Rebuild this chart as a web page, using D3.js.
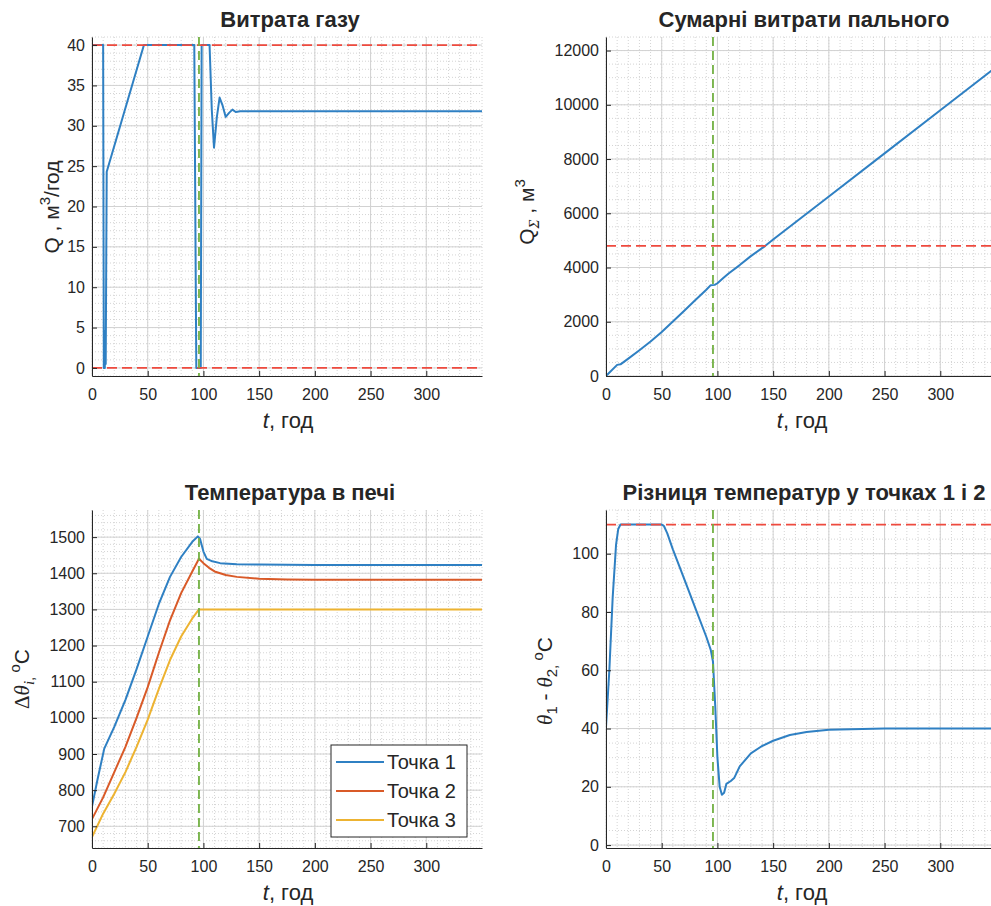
<!DOCTYPE html>
<html>
<head>
<meta charset="utf-8">
<script src="https://cdn.jsdelivr.net/npm/d3@7"></script>
<style>
  body { margin: 0; background: #fff; }
  text { font-family: "Liberation Sans", Arial, Helvetica, sans-serif; fill: #262626; }
  .serif { font-family: "Liberation Serif", "DejaVu Serif", serif; font-style: italic; }
  .up { font-style: normal; }
</style>
</head>
<body>
<svg id="chart" width="991" height="906"></svg>
<script>
// time axis, hours
const tDomain = [0, 350];
const tTicks = [0, 50, 100, 150, 200, 250, 300];
const tSwitch = 96; // green marker line

// gas flow Q, m3/h
const gasT = [0, 10, 10.6, 11.5, 11.9, 12.3, 13.2, 46.6, 91.8, 93.6, 97.6, 98.4, 105.5, 107.5, 109.5, 112, 114.5, 117, 120, 123, 126, 129, 133, 140, 350];
const gasQ = [40, 40, 0, 0, 4.6, 0.5, 24.3, 40, 40, 0, 0, 40, 40, 32, 27.3, 31, 33.5, 32.6, 31.1, 31.6, 32, 31.7, 31.8, 31.8, 31.8];
const gasLimits = [0, 40];
const gasYTicks = [0, 5, 10, 15, 20, 25, 30, 35, 40];

// total fuel, m3
const sumT = [0, 10, 13, 20, 30, 40, 50, 60, 70, 80, 90, 94, 97.5, 100, 105, 110, 120, 130, 143, 150, 200, 250, 300, 350];
const sumQ = [0, 410, 430, 640, 950, 1270, 1620, 2010, 2400, 2790, 3180, 3350, 3360, 3420, 3600, 3780, 4090, 4420, 4800, 5030, 6620, 8210, 9800, 11390];
const sumLimit = [4800];
const sumYTicks = [0, 2000, 4000, 6000, 8000, 10000, 12000];

// furnace temperature, degC
const p1T = [0, 5, 11, 20, 30, 40, 50, 60, 70, 80, 90, 95, 97, 100, 103, 108, 115, 130, 150, 200, 350];
const p1V = [755, 830, 915, 975, 1050, 1135, 1225, 1315, 1390, 1445, 1487, 1502, 1495, 1460, 1440, 1433, 1428, 1425, 1424, 1423, 1423];
const p2T = [0, 10, 20, 30, 40, 50, 60, 70, 80, 90, 96, 100, 105, 110, 120, 130, 150, 175, 200, 350];
const p2V = [720, 780, 850, 920, 1000, 1085, 1180, 1270, 1345, 1405, 1440, 1428, 1415, 1405, 1395, 1390, 1385, 1383, 1382, 1382];
const p3T = [0, 10, 20, 30, 40, 50, 60, 70, 80, 90, 96, 100, 350];
const p3V = [670, 735, 790, 850, 920, 995, 1080, 1160, 1225, 1275, 1300, 1300, 1300];
const tempNames = ["Точка 1", "Точка 2", "Точка 3"];
const tempYTicks = [700, 800, 900, 1000, 1100, 1200, 1300, 1400, 1500];

// temperature difference between points 1 and 2
const diffT = [0, 3, 6, 9, 11, 13, 20, 50, 52, 55, 60, 70, 80, 90, 94, 96, 98, 100, 102, 104, 106, 108, 112, 115, 120, 130, 140, 150, 165, 180, 200, 250, 350];
const diffV = [40.5, 60, 85, 103, 108.5, 110, 110, 110, 109.5, 107, 101.5, 91.5, 81.5, 71.5, 67, 63, 48, 30, 20, 17.3, 18, 21, 22, 23, 27, 31.5, 34, 35.8, 37.8, 38.8, 39.6, 40, 40];
const diffLimit = [110];
const diffYTicks = [0, 20, 40, 60, 80, 100];

const blue = "#2f80c3", red = "#d95a28", yellow = "#edb331";
const svg = d3.select("#chart");
const plotW = 390;

function zip(ts, vs) { return ts.map((t, i) => ({ t: t, v: vs[i] })); }

function panel(p) {
  const x = d3.scaleLinear().domain(tDomain).range([p.left, p.left + plotW]);
  const y = d3.scaleLinear().domain(p.yDomain).range([p.bottom, p.top]);
  const g = svg.append("g");
  const id = "clip" + p.left + "_" + p.top;
  g.append("clipPath").attr("id", id).append("rect")
    .attr("x", p.left).attr("y", p.top).attr("width", plotW).attr("height", p.bottom - p.top);

  // minor grid
  const xMinor = d3.range(0, tDomain[1] + 0.01, 10);
  const yMinor = d3.range(Math.ceil(p.yDomain[0] / p.yMinor) * p.yMinor, p.yDomain[1] + 1e-6, p.yMinor);
  g.selectAll(null).data(xMinor).join("line")
    .attr("x1", d => x(d)).attr("x2", d => x(d)).attr("y1", p.top).attr("y2", p.bottom)
    .attr("stroke", "#d4d4d4").attr("stroke-dasharray", "1,2");
  g.selectAll(null).data(yMinor).join("line")
    .attr("y1", d => y(d)).attr("y2", d => y(d)).attr("x1", p.left).attr("x2", p.left + plotW)
    .attr("stroke", "#d4d4d4").attr("stroke-dasharray", "1,2");
  // major grid
  g.selectAll(null).data(tTicks).join("line")
    .attr("x1", d => x(d)).attr("x2", d => x(d)).attr("y1", p.top).attr("y2", p.bottom)
    .attr("stroke", "#d2d2d2");
  g.selectAll(null).data(p.yTicks).join("line")
    .attr("y1", d => y(d)).attr("y2", d => y(d)).attr("x1", p.left).attr("x2", p.left + plotW)
    .attr("stroke", "#d2d2d2");

  const line = d3.line().x(d => x(d.t)).y(d => y(d.v));
  const plot = g.append("g").attr("clip-path", "url(#" + id + ")");
  p.series.forEach(s => {
    plot.append("path").datum(zip(s.t, s.v))
      .attr("d", line).attr("fill", "none").attr("stroke", s.color)
      .attr("stroke-width", 2).attr("stroke-linejoin", "round");
  });
  (p.limits || []).forEach(v => {
    plot.append("line").attr("x1", p.left).attr("x2", p.left + plotW)
      .attr("y1", y(v)).attr("y2", y(v))
      .attr("stroke", "#ee4a3e").attr("stroke-width", 1.8).attr("stroke-dasharray", "10,5");
  });
  plot.append("line").attr("x1", x(tSwitch)).attr("x2", x(tSwitch))
    .attr("y1", p.top).attr("y2", p.bottom)
    .attr("stroke", "#72b043").attr("stroke-width", 1.8).attr("stroke-dasharray", "9,5");

  // axes
  const xa = g.append("g").attr("transform", "translate(0," + p.bottom + ")")
    .call(d3.axisBottom(x).tickValues(tTicks).tickFormat(d3.format("d"))
      .tickSizeInner(-5).tickSizeOuter(0).tickPadding(13));
  const ya = g.append("g").attr("transform", "translate(" + p.left + ",0)")
    .call(d3.axisLeft(y).tickValues(p.yTicks).tickFormat(d3.format("d"))
      .tickSizeInner(-5).tickSizeOuter(0).tickPadding(7));
  [xa, ya].forEach(a => {
    a.select(".domain").attr("stroke", "#262626");
    a.selectAll(".tick line").attr("stroke", "#262626");
    a.selectAll("text").attr("font-size", 16).attr("font-family", null);
  });

  // title
  g.append("text").attr("x", p.left + plotW / 2 + 3).attr("y", p.top - 10)
    .attr("text-anchor", "middle").attr("font-weight", "bold").attr("font-size", 22)
    .text(p.title);
  // x label
  const xl = g.append("text").attr("x", p.left + plotW / 2 + 1).attr("y", p.bottom + 52)
    .attr("text-anchor", "middle").attr("font-size", 22);
  xl.append("tspan").attr("font-style", "italic").text("t");
  xl.append("tspan").text(", год");
  // y label
  const yl = g.append("text")
    .attr("transform", "translate(" + p.ylx + "," + p.yly + ") rotate(-90)")
    .attr("text-anchor", "middle").attr("font-size", 21);
  p.ylabel(yl);
  return { x: x, y: y };
}

panel({
  left: 92, top: 37, bottom: 376, yDomain: [-1, 41], yTicks: gasYTicks, yMinor: 1,
  series: [{ t: gasT, v: gasQ, color: blue }], limits: gasLimits,
  title: "Витрата газу", ylx: 59, yly: 207,
  ylabel: t => {
    t.append("tspan").text("Q , м");
    t.append("tspan").attr("font-size", 15).attr("dy", -9).text("3");
    t.append("tspan").attr("dy", 9).text("/год");
  }
});

panel({
  left: 606, top: 37, bottom: 376, yDomain: [0, 12500], yTicks: sumYTicks, yMinor: 500,
  series: [{ t: sumT, v: sumQ, color: blue }], limits: sumLimit,
  title: "Сумарні витрати пального", ylx: 534, yly: 212,
  ylabel: t => {
    t.append("tspan").text("Q");
    t.append("tspan").attr("class", "serif").attr("font-size", 15).attr("dy", 5).text("Σ");
    t.append("tspan").attr("dy", -5).text(" , м");
    t.append("tspan").attr("font-size", 15).attr("dy", -9).text("3");
  }
});

panel({
  left: 92, top: 510, bottom: 848, yDomain: [640, 1575], yTicks: tempYTicks, yMinor: 20,
  series: [{ t: p1T, v: p1V, color: blue }, { t: p2T, v: p2V, color: red }, { t: p3T, v: p3V, color: yellow }],
  title: "Температура в печі", ylx: 29, yly: 679,
  ylabel: t => {
    t.append("tspan").attr("class", "serif up").text("Δ");
    t.append("tspan").attr("class", "serif").text("θ");
    t.append("tspan").attr("class", "serif").attr("font-size", 15).attr("dy", 5).text("i");
    t.append("tspan").attr("font-size", 15).text(", ");
    t.append("tspan").attr("font-size", 15).attr("dy", -14).text("o");
    t.append("tspan").attr("dy", 9).text("C");
  }
});

// legend
const leg = svg.append("g");
leg.append("rect").attr("x", 331).attr("y", 745).attr("width", 136).attr("height", 92)
  .attr("fill", "#fff").attr("stroke", "#262626").attr("stroke-width", 1);
tempNames.forEach((n, i) => {
  const yy = 762 + i * 29;
  leg.append("line").attr("x1", 336).attr("x2", 384).attr("y1", yy).attr("y2", yy)
    .attr("stroke", [blue, red, yellow][i]).attr("stroke-width", 2);
  leg.append("text").attr("x", 387).attr("y", yy + 7).attr("font-size", 20).text(n);
});

panel({
  left: 606, top: 510, bottom: 848, yDomain: [-1, 115], yTicks: diffYTicks, yMinor: 5,
  series: [{ t: diffT, v: diffV, color: blue }], limits: diffLimit,
  title: "Різниця температур у точках 1 і 2", ylx: 552, yly: 681,
  ylabel: t => {
    t.append("tspan").attr("class", "serif").text("θ");
    t.append("tspan").attr("font-size", 15).attr("dy", 5).text("1");
    t.append("tspan").attr("dy", -5).text(" - ");
    t.append("tspan").attr("class", "serif").text("θ");
    t.append("tspan").attr("font-size", 15).attr("dy", 5).text("2");
    t.append("tspan").attr("font-size", 15).text(", ");
    t.append("tspan").attr("font-size", 15).attr("dy", -14).text("o");
    t.append("tspan").attr("dy", 9).text("C");
  }
});
</script>
</body>
</html>
